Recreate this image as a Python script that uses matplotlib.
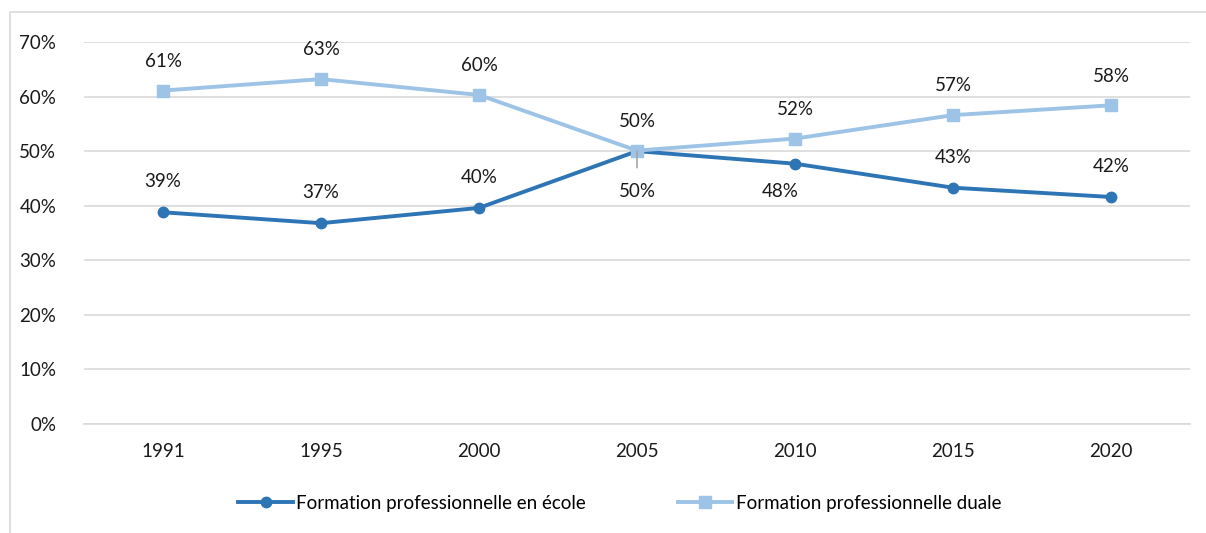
import matplotlib
matplotlib.use('Agg')
import matplotlib.pyplot as plt
from matplotlib.patches import Rectangle

# Donnees
annees = ['1991', '1995', '2000', '2005', '2010', '2015', '2020']
ecole = [38.8, 36.8, 39.6, 50.0, 47.7, 43.3, 41.6]
duale = [61.1, 63.2, 60.3, 50.1, 52.3, 56.6, 58.4]
lbl_ecole = ['39%', '37%', '40%', '50%', '48%', '43%', '42%']
lbl_duale = ['61%', '63%', '60%', '50%', '52%', '57%', '58%']

plt.rcParams['font.family'] = ['Lato', 'DejaVu Sans']
c_fonce = '#2E75B6'
c_clair = '#9DC3E6'
fs = 13.5

fig = plt.figure(figsize=(12.06, 5.33), dpi=100)
W, H = 1206, 533
ax = fig.add_axes([84 / W, 1 - 424 / H, (1190 - 84) / W, (424 - 42) / H])

# cadre du graphique (partiellement coupe)
fig.patches.append(Rectangle((10 / W, -0.1), 1.2, 1 - 12 / H + 0.1, transform=fig.transFigure,
                             fill=False, edgecolor='#D9D9D9', linewidth=1.2))

x = list(range(len(annees)))
ax.plot(x, ecole, color=c_fonce, linewidth=2.8, marker='o', markersize=7.5,
        label='Formation professionnelle en école', zorder=3)
ax.plot(x, duale, color=c_clair, linewidth=2.8, marker='s', markersize=8.5,
        label='Formation professionnelle duale', zorder=3)

for i in x:
    ax.annotate(lbl_duale[i], (i, duale[i]), xytext=(0, 21), textcoords='offset points',
                ha='center', va='center', fontsize=fs, color='#1a1a1a')
    if i == 3:
        ax.annotate(lbl_ecole[i], (i, ecole[i]), xytext=(0, -29), textcoords='offset points',
                    ha='center', va='center', fontsize=fs, color='#1a1a1a',
                    arrowprops=dict(arrowstyle='-', color='#A6A6A6', lw=1.2,
                                    shrinkA=9, shrinkB=0))
    elif i == 4:
        ax.annotate(lbl_ecole[i], (i, ecole[i]), xytext=(-11, -20), textcoords='offset points',
                    ha='center', va='center', fontsize=fs, color='#1a1a1a')
    else:
        ax.annotate(lbl_ecole[i], (i, ecole[i]), xytext=(0, 22), textcoords='offset points',
                    ha='center', va='center', fontsize=fs, color='#1a1a1a')

ax.set_xlim(-0.5, len(annees) - 0.5)
ax.set_ylim(0, 70)
ax.set_yticks(range(0, 71, 10))
ax.set_yticklabels([f'{v}%' for v in range(0, 71, 10)])
ax.set_xticks(x)
ax.set_xticklabels(annees)
ax.grid(axis='y', color='#D9D9D9', linewidth=1.2)
ax.set_axisbelow(True)
for s in ax.spines.values():
    s.set_visible(False)
ax.spines['bottom'].set_visible(True)
ax.spines['bottom'].set_color('#D9D9D9')
ax.spines['bottom'].set_linewidth(1.2)
ax.tick_params(axis='both', length=0, labelsize=fs, colors='#1a1a1a')
ax.tick_params(axis='x', pad=14)
ax.tick_params(axis='y', pad=20)

fig.legend(loc='center', bbox_to_anchor=(620 / W, 1 - 503 / H), ncol=2, frameon=False,
           fontsize=fs, handlelength=2.9, columnspacing=4.9, handletextpad=0.2)

fig.savefig('out.png', dpi=100)
plt.close(fig)
